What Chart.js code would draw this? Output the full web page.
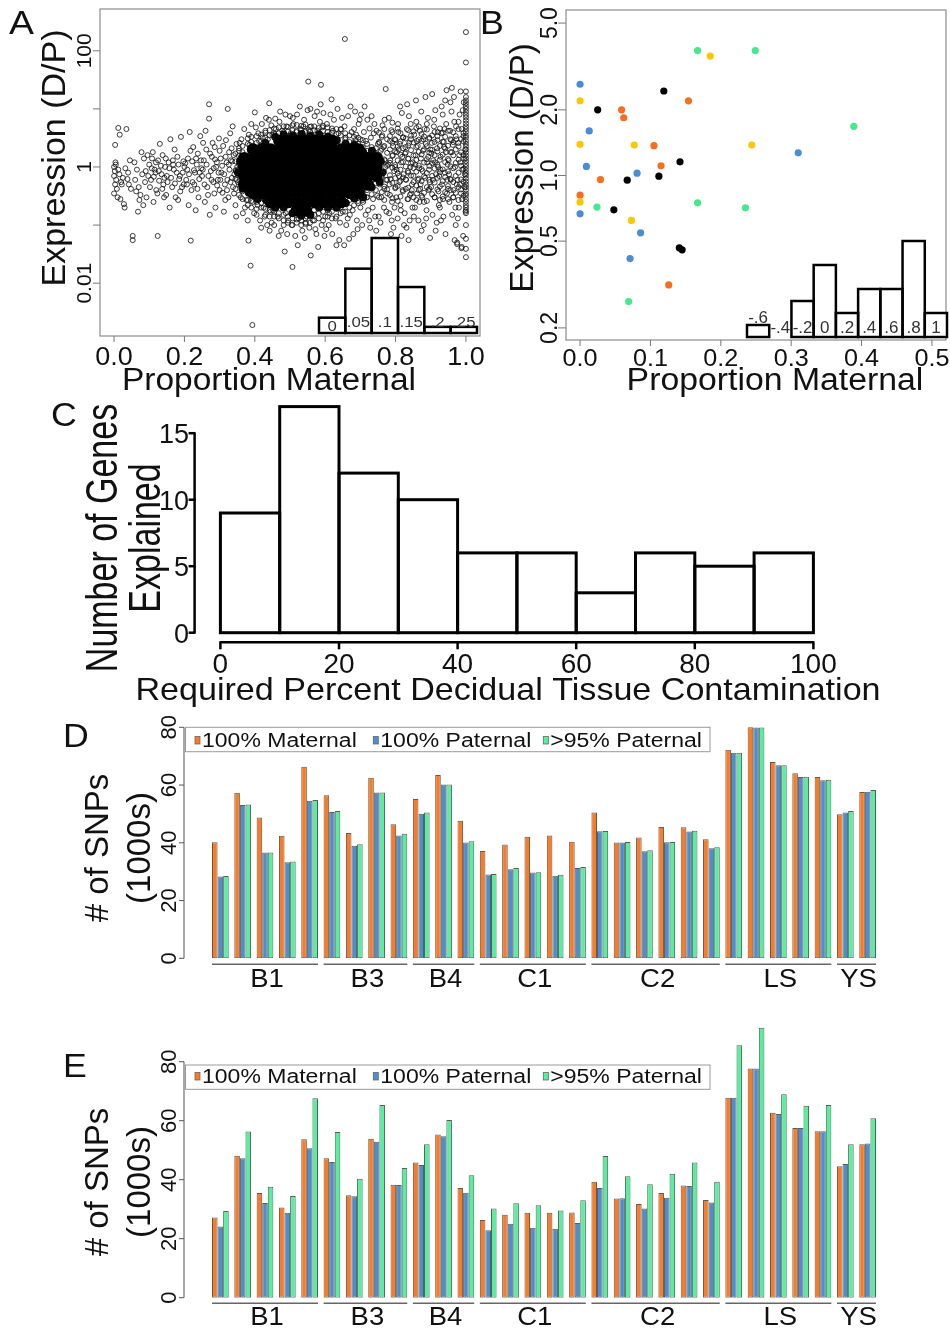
<!DOCTYPE html>
<html>
<head>
<meta charset="utf-8">
<script src="https://cdn.jsdelivr.net/npm/chart.js@4.4.1/dist/chart.umd.min.js"></script>
<style>
  html, body { margin: 0; padding: 0; background: #fff; }
  #fig { position: relative; width: 950px; height: 1331px; overflow: hidden; background: #fff; }
  #fig canvas { position: absolute; left: 0; top: 0; }
</style>
</head>
<body>
<div id="fig">
  <canvas id="chartA" width="950" height="1331"></canvas>
  <canvas id="insetA" width="950" height="1331"></canvas>
  <canvas id="chartB" width="950" height="1331"></canvas>
  <canvas id="insetB" width="950" height="1331"></canvas>
  <canvas id="chartC" width="950" height="1331"></canvas>
  <canvas id="chartD" width="950" height="1331"></canvas>
  <canvas id="chartE" width="950" height="1331"></canvas>
</div>
<script>
// ---------- A: all genes, proportion maternal vs expression ----------
const aTicksX = [0, 0.2, 0.4, 0.6, 0.8, 1.0];
const aTicksY = [0.01, 0.1, 1, 10, 100];
const aTickLabelsY = ['0.01', '', '1', '', '100'];

// the black core of the cloud (overlapping points)
const aCore = [
  { x: 0.37,  y: [0.5, 0.71, 1.0, 1.41] },
  { x: 0.395, y: [0.36, 0.5, 0.71, 1.0, 1.41, 2.0] },
  { x: 0.42,  y: [0.36, 0.5, 0.71, 1.0, 1.41, 2.0] },
  { x: 0.445, y: [0.25, 0.36, 0.5, 0.71, 1.0, 1.41, 2.0] },
  { x: 0.47,  y: [0.25, 0.36, 0.5, 0.71, 1.0, 1.41, 2.0, 2.8] },
  { x: 0.495, y: [0.25, 0.36, 0.5, 0.71, 1.0, 1.41, 2.0, 2.8] },
  { x: 0.52,  y: [0.18, 0.25, 0.36, 0.5, 0.71, 1.0, 1.41, 2.0, 2.8] },
  { x: 0.545, y: [0.18, 0.25, 0.36, 0.5, 0.71, 1.0, 1.41, 2.0, 2.8] },
  { x: 0.57,  y: [0.25, 0.36, 0.5, 0.71, 1.0, 1.41, 2.0, 2.8] },
  { x: 0.595, y: [0.25, 0.36, 0.5, 0.71, 1.0, 1.41, 2.0, 2.8] },
  { x: 0.62,  y: [0.25, 0.36, 0.5, 0.71, 1.0, 1.41, 2.0, 2.8] },
  { x: 0.645, y: [0.25, 0.36, 0.5, 0.71, 1.0, 1.41, 2.0] },
  { x: 0.67,  y: [0.36, 0.5, 0.71, 1.0, 1.41, 2.0] },
  { x: 0.695, y: [0.36, 0.5, 0.71, 1.0, 1.41, 2.0] },
  { x: 0.72,  y: [0.5, 0.71, 1.0, 1.41] },
  { x: 0.745, y: [0.71, 1.0, 1.41] }
];

// smaller dark clumps that roughen the edge of the core
const aClumps = [
  [0.352,0.8],[0.358,1.25],[0.365,0.42],[0.43,2.6],[0.458,3.3],[0.482,3.6],[0.508,3.5],[0.533,3.7],[0.558,3.4],
  [0.583,3.6],[0.608,3.3],[0.633,2.9],[0.658,2.5],[0.683,2.4],[0.708,1.8],[0.733,1.9],[0.758,1.25],[0.762,0.8],
  [0.755,0.55],[0.732,0.45],[0.708,0.3],[0.683,0.29],[0.658,0.24],[0.633,0.2],[0.608,0.2],[0.583,0.2],[0.558,0.15],
  [0.532,0.145],[0.507,0.16],[0.482,0.2],[0.458,0.2],[0.432,0.27],[0.408,0.28],[0.383,0.36]
];

// crowded genes round the core and towards 100% maternal
const aRing = [
  { x: 0.345, y: [0.42, 0.62, 0.88, 1.25, 1.7] },
  { x: 0.355, y: [0.33, 0.5, 0.75, 1.1, 1.55, 2.1] },
  { x: 0.365, y: [0.28, 0.38, 1.8, 2.3] },
  { x: 0.38,  y: [0.22, 0.27, 2.5, 3.1] },
  { x: 0.39,  y: [0.2, 0.26, 2.7, 3.3] },
  { x: 0.405, y: [0.19, 0.25, 2.6, 3.4] },
  { x: 0.418, y: [0.2, 0.24, 2.8, 3.6] },
  { x: 0.43,  y: [0.15, 0.19, 3.2, 3.9] },
  { x: 0.442, y: [0.14, 0.18, 3.5, 4.3] },
  { x: 0.455, y: [0.14, 0.17, 3.7, 4.6] },
  { x: 0.468, y: [0.13, 0.16, 3.8, 4.8] },
  { x: 0.482, y: [0.12, 0.15, 4.0, 5.0] },
  { x: 0.494, y: [0.11, 0.14, 4.1, 4.9] },
  { x: 0.507, y: [0.1, 0.13, 4.3, 5.2] },
  { x: 0.519, y: [0.11, 0.125, 4.2, 5.3] },
  { x: 0.532, y: [0.1, 0.12, 4.4, 5.1] },
  { x: 0.544, y: [0.105, 0.13, 4.0, 5.4] },
  { x: 0.557, y: [0.11, 0.14, 4.1, 4.9] },
  { x: 0.569, y: [0.12, 0.15, 4.3, 5.0] },
  { x: 0.582, y: [0.13, 0.16, 3.9, 4.7] },
  { x: 0.594, y: [0.12, 0.17, 4.2, 5.1] },
  { x: 0.607, y: [0.14, 0.18, 4.0, 4.8] },
  { x: 0.619, y: [0.13, 0.17, 3.9, 4.6] },
  { x: 0.632, y: [0.14, 0.19, 3.7, 4.5] },
  { x: 0.644, y: [0.16, 0.2, 3.5, 4.4] },
  { x: 0.657, y: [0.17, 0.23, 3.0, 3.8] },
  { x: 0.669, y: [0.2, 0.27, 2.7, 3.5] },
  { x: 0.682, y: [0.22, 0.28, 2.6, 3.3] },
  { x: 0.694, y: [0.24, 0.3, 2.5, 3.2] },
  { x: 0.707, y: [0.27, 0.36, 2.2, 2.9] },
  { x: 0.719, y: [0.3, 0.4, 1.9, 2.5] },
  { x: 0.732, y: [0.34, 0.45, 0.6, 1.75, 2.2] },
  { x: 0.744, y: [0.4, 0.52, 1.7, 2.1] },
  { x: 0.753, y: [0.3, 0.56, 0.93, 1.6, 2.7, 3.9] },
  { x: 0.761, y: [0.37, 0.68, 1.2, 2.05, 3.3] },
  { x: 0.768, y: [0.27, 0.46, 0.82, 1.35, 2.3, 4.5] },
  { x: 0.776, y: [0.41, 0.6, 1.05, 1.75, 3.0] },
  { x: 0.784, y: [0.33, 0.72, 1.18, 2.0, 3.4] },
  { x: 0.791, y: [0.29, 0.53, 0.97, 1.55, 2.6, 4.0] },
  { x: 0.799, y: [0.43, 0.64, 1.08, 1.85, 2.9] },
  { x: 0.806, y: [0.26, 0.47, 0.78, 1.3, 2.25, 4.6] },
  { x: 0.814, y: [0.31, 0.58, 0.9, 1.62, 2.75, 3.8] },
  { x: 0.821, y: [0.38, 0.66, 1.22, 2.1, 3.25] },
  { x: 0.829, y: [0.42, 0.61, 1.02, 1.78, 3.1] },
  { x: 0.836, y: [0.28, 0.44, 0.8, 1.38, 2.35, 4.3] },
  { x: 0.844, y: [0.35, 0.71, 1.15, 1.95, 3.45] },
  { x: 0.851, y: [0.3, 0.55, 0.96, 1.58, 2.65, 4.1] },
  { x: 0.859, y: [0.27, 0.48, 0.83, 1.32, 2.2, 4.7] },
  { x: 0.866, y: [0.4, 0.63, 1.06, 1.82, 2.95] },
  { x: 0.874, y: [0.32, 0.57, 0.92, 1.65, 2.8, 3.7] },
  { x: 0.881, y: [0.36, 0.69, 1.19, 2.02, 3.35] },
  { x: 0.889, y: [0.26, 0.45, 0.79, 1.36, 2.28, 4.4] },
  { x: 0.896, y: [0.42, 0.6, 1.04, 1.76, 3.05] },
  { x: 0.904, y: [0.34, 0.7, 1.16, 1.98, 3.5] },
  { x: 0.911, y: [0.3, 0.54, 0.94, 1.6, 2.7, 4.0] },
  { x: 0.919, y: [0.41, 0.65, 1.09, 1.86, 2.9] },
  { x: 0.926, y: [0.27, 0.46, 0.81, 1.33, 2.3, 4.6] },
  { x: 0.934, y: [0.31, 0.57, 0.91, 1.63, 2.72, 3.9] },
  { x: 0.941, y: [0.37, 0.67, 1.21, 2.07, 3.3] },
  { x: 0.949, y: [0.28, 0.47, 0.84, 1.37, 2.32, 4.2] },
  { x: 0.956, y: [0.4, 0.62, 1.03, 1.8, 3.0] },
  { x: 0.964, y: [0.3, 0.55, 0.95, 1.59, 2.68, 3.95] },
  { x: 0.971, y: [0.36, 0.7, 1.17, 2.0, 3.4] },
  { x: 0.979, y: [0.27, 0.45, 0.8, 1.34, 2.26, 4.5] },
  { x: 0.986, y: [0.41, 0.61, 1.05, 1.79, 3.02] },
  { x: 0.993, y: [0.32, 0.56, 0.93, 1.61, 2.74, 3.85] }
];

const aSparse = [
  [0.0,1.0],[0.002,0.85],[0.004,1.2],[0.0,0.7],[0.006,0.6],[0.003,0.5],[0.008,0.42],[0.0,0.35],[0.01,0.3],[0.005,1.1],
  [0.012,0.9],[0.015,0.75],[0.003,2.4],[0.012,4.7],[0.016,3.6],[0.035,4.5],[0.02,0.55],[0.025,0.65],[0.03,0.2],[0.028,0.23],
  [0.04,0.8],[0.045,1.3],[0.038,0.62],[0.048,0.42],[0.053,0.065],[0.053,0.055],[0.022,0.5],[0.018,0.28],[0.032,0.95],[0.042,0.5],
  [0.06,0.6],[0.065,0.9],[0.07,0.45],[0.075,0.33],[0.08,0.75],[0.085,1.4],[0.09,0.85],[0.095,1.6],[0.1,1.1],[0.072,0.27],
  [0.058,1.2],[0.088,0.55],[0.063,0.38],[0.078,1.8],[0.097,0.7],[0.092,0.3],[0.068,0.17],[0.083,0.22],
  [0.105,0.6],[0.11,1.8],[0.115,0.9],[0.12,0.4],[0.124,0.065],[0.125,1.3],[0.13,2.5],[0.135,0.75],[0.14,0.5],[0.145,1.0],
  [0.148,0.33],[0.112,0.25],[0.118,0.8],[0.128,0.58],[0.138,1.6],[0.142,0.3],[0.108,1.4],
  [0.102,0.45],[0.107,0.95],[0.113,0.68],[0.119,1.2],[0.123,0.35],[0.127,0.85],[0.133,1.05],[0.137,0.42],[0.143,0.65],[0.147,1.4],
  [0.15,0.7],[0.155,1.2],[0.16,3.0],[0.165,0.45],[0.17,0.9],[0.175,0.3],[0.18,1.5],[0.185,0.62],[0.19,3.3],[0.195,0.8],
  [0.2,1.0],[0.158,0.2],[0.172,2.0],[0.188,0.38],[0.198,0.5],[0.168,1.1],[0.182,0.27],
  [0.152,0.55],[0.157,0.95],[0.162,0.65],[0.167,1.3],[0.173,0.52],[0.178,0.8],[0.183,1.1],[0.187,0.7],[0.193,0.45],[0.197,1.25],
  [0.205,0.6],[0.21,1.4],[0.215,4.0],[0.218,0.054],[0.22,0.4],[0.225,2.2],[0.23,0.8],[0.235,1.1],[0.24,0.3],[0.245,3.4],
  [0.25,0.7],[0.208,0.9],[0.212,0.22],[0.228,0.5],[0.238,1.7],[0.248,0.95],[0.232,0.18],[0.242,0.62],[0.222,1.25],
  [0.202,1.15],[0.207,0.5],[0.213,0.75],[0.217,1.9],[0.223,0.55],[0.227,0.88],[0.233,1.4],[0.237,0.42],[0.243,0.8],[0.247,1.3],
  [0.255,1.3],[0.26,4.2],[0.265,0.45],[0.27,12],[0.27,6.8],[0.275,0.85],[0.28,2.6],[0.285,0.35],[0.29,1.0],[0.295,0.6],
  [0.3,1.9],[0.258,0.25],[0.268,0.7],[0.278,1.5],[0.288,0.2],[0.298,3.1],[0.262,2.0],[0.282,0.55],[0.292,1.2],[0.3,0.4],[0.272,0.15],
  [0.252,0.9],[0.257,0.5],[0.263,1.1],[0.267,0.33],[0.273,1.7],[0.277,0.6],[0.283,0.95],[0.287,1.35],[0.293,0.48],[0.297,0.8],
  [0.253,2.6],[0.286,2.2],
  [0.305,0.8],[0.31,2.3],[0.315,0.5],[0.32,1.2],[0.323,10],[0.325,0.3],[0.33,3.8],[0.335,0.65],[0.34,1.6],[0.345,0.22],
  [0.35,1.0],[0.303,1.4],[0.308,0.36],[0.318,2.9],[0.328,0.9],[0.338,0.45],[0.348,2.5],[0.312,0.17],[0.332,1.3],[0.342,0.75],
  [0.322,0.6],[0.337,5.0],[0.347,0.14],[0.316,0.27],[0.327,1.8],
  [0.302,0.6],[0.307,1.05],[0.313,0.75],[0.317,1.5],[0.321,0.4],[0.326,1.1],[0.331,0.55],[0.336,1.25],[0.341,0.35],[0.346,0.85],
  [0.349,0.6],[0.334,2.1],
  [0.352,0.55],[0.355,1.9],[0.36,0.3],[0.362,3.0],[0.365,0.8],[0.37,4.5],[0.372,0.2],[0.375,1.3],[0.38,0.12],[0.382,0.054],
  [0.385,2.4],[0.388,0.02],[0.39,5.5],[0.393,0.0019],[0.395,0.25],[0.398,0.16],[0.4,8.7],[0.358,1.1],[0.368,0.42],[0.378,0.65],
  [0.392,0.38],[0.357,2.6],[0.383,3.6],[0.396,1.7],[0.366,0.16],[0.376,0.27],[0.353,0.9],[0.387,0.5],
  [0.405,0.15],[0.41,3.8],[0.415,0.12],[0.42,5.5],[0.425,0.2],[0.43,4.2],[0.435,0.1],[0.44,6.5],[0.441,12.5],[0.445,0.17],
  [0.45,3.6],[0.408,0.22],[0.418,0.09],[0.428,0.14],[0.438,0.24],[0.448,0.11],[0.412,2.8],[0.422,3.2],[0.432,7.0],[0.442,0.08],
  [0.403,4.8],[0.447,5.2],[0.417,0.3],[0.437,3.0],
  [0.455,0.1],[0.46,4.5],[0.465,0.14],[0.47,6.0],[0.475,0.08],[0.48,3.8],[0.485,0.035],[0.49,5.0],[0.495,0.12],[0.5,7.5],
  [0.452,0.18],[0.458,6.8],[0.468,0.065],[0.478,4.2],[0.488,0.16],[0.498,3.4],[0.462,0.2],[0.472,9.0],[0.482,0.1],[0.492,0.07],
  [0.507,0.019],[0.457,3.2],[0.487,8.0],[0.467,0.25],[0.497,0.22],
  [0.505,0.1],[0.51,5.5],[0.515,0.065],[0.52,8.0],[0.525,0.13],[0.53,4.5],[0.535,0.08],[0.54,6.5],[0.545,0.11],[0.55,9.5],
  [0.552,29.5],[0.512,0.17],[0.522,0.045],[0.532,0.15],[0.542,0.06],[0.548,0.14],[0.518,4.0],[0.528,11],[0.538,5.0],[0.502,3.8],
  [0.508,7.0],[0.545,4.2],[0.525,0.2],[0.535,3.6],
  [0.555,0.09],[0.559,0.03],[0.56,5.0],[0.565,0.12],[0.57,7.5],[0.575,0.07],[0.58,0.042],[0.585,6.0],[0.588,26],[0.59,0.1],
  [0.595,8.5],[0.6,0.14],[0.558,10],[0.568,0.18],[0.578,4.2],[0.583,0.2],[0.592,4.8],[0.598,0.065],[0.562,3.6],[0.572,0.085],
  [0.587,12],[0.553,4.4],[0.577,9.0],[0.597,3.4],
  [0.605,5.5],[0.61,0.1],[0.615,8.0],[0.618,14.6],[0.62,0.07],[0.625,6.5],[0.63,0.13],[0.635,10],[0.64,0.055],[0.645,4.5],
  [0.65,0.17],[0.608,3.5],[0.612,0.16],[0.622,4.2],[0.628,0.2],[0.638,3.8],[0.642,0.11],[0.648,7.0],[0.603,0.085],[0.632,0.045],
  [0.654,0.045],[0.617,0.24],[0.627,3.0],[0.647,0.25],
  [0.656,160],[0.655,5.0],[0.66,0.1],[0.665,7.5],[0.67,0.15],[0.675,4.0],[0.68,0.07],[0.685,9.0],[0.69,0.12],[0.695,5.5],
  [0.7,0.2],[0.658,3.2],[0.668,0.058],[0.672,11],[0.678,0.18],[0.688,3.6],[0.692,0.085],[0.698,6.5],[0.662,0.24],[0.682,4.5],
  [0.664,0.13],[0.694,0.26],[0.676,0.3],[0.686,2.9],[0.7,3.0],
  [0.705,0.1],[0.71,4.0],[0.712,11],[0.715,0.15],[0.72,6.5],[0.725,0.12],[0.73,3.2],[0.735,0.2],[0.74,5.5],[0.745,0.08],
  [0.75,2.5],[0.708,0.25],[0.718,0.3],[0.728,0.09],[0.738,3.8],[0.748,0.32],[0.702,8.0],[0.722,0.18],[0.732,7.5],[0.742,0.14],
  [0.716,2.8],[0.736,0.28],[0.726,4.6],[0.746,4.2],
  [0.752,0.14],[0.755,0.5],[0.758,1.9],[0.76,0.3],[0.762,3.5],[0.765,0.8],[0.767,0.2],[0.77,1.3],[0.772,22],[0.773,0.6],
  [0.754,2.6],[0.757,0.11],[0.763,5.2],[0.768,0.42],[0.771,1.0],[0.759,0.7],[0.766,2.2],[0.774,0.17],[0.756,1.5],[0.769,6.5],
  [0.777,0.35],[0.779,1.1],[0.782,0.16],[0.784,2.8],[0.786,0.62],[0.788,4.3],[0.79,0.25],[0.792,1.6],[0.794,0.09],[0.796,0.85],
  [0.798,3.0],[0.8,0.45],[0.781,7.0],[0.785,1.3],[0.789,0.12],[0.793,2.3],[0.797,0.2],[0.783,0.5],[0.791,5.8],[0.799,1.0],[0.787,0.07],
  [0.802,0.3],[0.804,1.8],[0.806,0.13],[0.808,4.0],[0.81,0.7],[0.812,2.5],[0.814,0.22],[0.816,1.2],[0.818,8.5],[0.82,0.4],
  [0.822,3.2],[0.824,0.1],[0.803,0.9],[0.807,5.5],[0.811,0.55],[0.815,0.18],[0.819,1.5],[0.823,0.75],[0.809,2.0],[0.817,0.065],[0.813,11],
  [0.826,0.16],[0.828,2.2],[0.83,0.6],[0.832,4.5],[0.834,0.28],[0.836,1.4],[0.838,7.5],[0.84,0.12],[0.842,1.0],[0.844,3.0],
  [0.846,0.4],[0.848,0.2],[0.827,1.7],[0.831,0.09],[0.835,0.85],[0.839,2.6],[0.843,5.5],[0.847,0.5],[0.833,12],[0.841,0.33],
  [0.849,1.2],[0.837,0.055],
  [0.851,0.7],[0.853,3.6],[0.855,0.2],[0.857,1.6],[0.859,6.0],[0.861,0.35],[0.863,2.3],[0.865,0.12],[0.867,0.95],[0.869,4.2],
  [0.871,0.5],[0.873,9.0],[0.852,0.14],[0.856,1.1],[0.86,2.8],[0.864,0.6],[0.868,0.25],[0.872,1.4],[0.874,0.08],[0.858,14],
  [0.866,5.0],[0.87,0.42],
  [0.876,0.3],[0.878,1.9],[0.88,0.1],[0.882,4.5],[0.884,0.65],[0.886,2.5],[0.888,0.18],[0.89,1.2],[0.892,7.0],[0.894,0.4],
  [0.896,3.2],[0.898,0.06],[0.877,0.85],[0.881,0.25],[0.885,16],[0.889,5.5],[0.893,1.5],[0.897,0.55],[0.879,3.0],[0.887,0.13],
  [0.895,0.9],[0.899,2.0],
  [0.901,0.45],[0.903,2.6],[0.905,0.15],[0.907,1.3],[0.909,5.0],[0.911,0.3],[0.913,9.5],[0.915,0.75],[0.917,0.11],[0.919,3.4],
  [0.921,1.0],[0.923,0.22],[0.902,1.7],[0.906,0.6],[0.91,6.5],[0.914,0.08],[0.918,2.1],[0.922,0.38],[0.904,18],[0.912,1.2],
  [0.92,4.0],[0.924,0.7],
  [0.926,0.2],[0.928,1.5],[0.93,3.8],[0.932,0.5],[0.934,8.0],[0.936,0.14],[0.938,2.2],[0.94,0.8],[0.942,0.07],[0.944,5.5],
  [0.946,0.35],[0.948,1.1],[0.945,21],[0.927,0.9],[0.931,11],[0.935,0.28],[0.939,4.5],[0.943,1.8],[0.947,0.6],[0.929,0.12],
  [0.937,2.7],[0.941,14],[0.949,0.42],
  [0.951,1.3],[0.953,0.25],[0.955,4.2],[0.957,0.6],[0.959,9.0],[0.96,23],[0.961,0.15],[0.963,2.4],[0.965,0.4],[0.967,6.0],
  [0.969,1.0],[0.971,0.1],[0.973,3.0],[0.975,0.05],[0.952,0.75],[0.956,13],[0.96,1.8],[0.964,0.3],[0.968,0.055],[0.972,5.0],
  [0.974,0.5],[0.958,2.9],[0.966,16],[0.97,0.2],[0.975,0.047],[0.988,0.042],
  [0.976,0.6],[0.978,2.6],[0.98,0.2],[0.982,8.0],[0.984,1.2],[0.986,0.35],[0.988,4.5],[0.99,0.9],[0.992,0.065],[0.994,13],
  [0.996,0.45],[0.998,2.0],[0.977,0.13],[0.981,1.6],[0.985,20],[0.989,0.28],[0.993,3.4],[0.997,0.75],[0.979,6.0],[0.987,0.04],
  [0.995,1.4],[0.983,0.5],[0.991,9.5],[0.999,0.17]
];

// the column of genes at exactly 100% maternal
const aAllMaternal = [
  0.028, 0.039, 0.058, 0.1, 0.16, 0.18, 0.2, 0.22, 0.25, 0.28, 0.32, 0.35, 0.4, 0.45, 0.5, 0.56, 0.63, 0.71, 0.79, 0.89,
  1.0, 1.12, 1.26, 1.41, 1.58, 1.78, 2.0, 2.24, 2.5, 2.8, 3.2, 3.5, 4.0, 4.5, 5.0, 5.6, 6.3, 7.1, 7.9, 8.9,
  10, 11.2, 12.6, 14, 16, 20, 63, 210
];

const aInsetLabels = ['0', '.05', '.1', '.15', '.2', '.25'];
const aInsetCounts = [5, 21, 31, 15, 2, 2];

// ---------- B: candidate genes ----------
const bTicksX = [0, 0.1, 0.2, 0.3, 0.4, 0.5];
const bTicksY = [0.2, 0.5, 1.0, 2.0, 5.0];
const bGreen  = [[0.167,3.74],[0.249,3.74],[0.389,1.68],[0.024,0.716],[0.167,0.749],[0.235,0.711],[0.069,0.264]];
const bYellow = [[0.185,3.53],[0,2.2],[0,1.39],[0.077,1.38],[0.244,1.38],[0,0.755],[0.073,0.622]];
const bBlue   = [[0,2.62],[0.013,1.6],[0.009,1.1],[0.081,1.025],[0.31,1.27],[0,0.667],[0.086,0.546],[0.071,0.416]];
const bBlack  = [[0.119,2.44],[0.025,2.0],[0.142,1.155],[0.112,0.993],[0.067,0.952],[0.048,0.696],[0.141,0.466],[0.145,0.456]];
const bOrange = [[0.059,2.0],[0.062,1.84],[0.154,2.2],[0.105,1.37],[0.115,1.107],[0.029,0.958],[0,0.812],[0.126,0.315]];
const bInsetLabels = ['-.6', '-.4', '-.2', '0', '.2', '.4', '.6', '.8', '1'];
const bInsetCounts = [1, 0, 3, 6, 2, 4, 4, 8, 2];

// ---------- C: decidual contamination needed ----------
const cBins = ['0-10', '10-20', '20-30', '30-40', '40-50', '50-60', '60-70', '70-80', '80-90', '90-100'];
const cCounts = [9, 17, 12, 10, 6, 6, 3, 6, 5, 6];
const cTicksX = [0, 20, 40, 60, 80, 100];
const cTicksY = [0, 5, 10, 15];

// ---------- D / E: SNP counts per sample ----------
const tissues = ['B1', 'B3', 'B4', 'C1', 'C2', 'LS', 'YS'];
const tissueSizes = [5, 4, 3, 5, 6, 5, 2];
const snpTicks = [0, 20, 40, 60, 80];
const seriesNames = ['100% Maternal', '100% Paternal', '>95% Paternal'];
const seriesColors = ['#FF7A1F', '#4B8FCF', '#52F29D'];

const dMaternal   = [40.2,57.3,48.8,42.4,66.3, 56.5,43.4,62.5,46.4, 55.2,63.5,47.6, 37.2,39.4,42.1,42.5,40.4, 50.5,40.1,41.8,45.5,45.4,41.2, 72.2,80.0,68.0,64.1,62.8, 49.9,57.6];
const dPaternal   = [28.3,53.1,36.6,33.3,54.6, 50.7,39.0,57.4,42.5, 50.1,60.2,40.1, 29.0,30.8,29.7,28.6,31.3, 44.0,40.1,37.1,40.2,43.9,38.1, 71.2,79.9,66.9,62.8,61.7, 50.5,57.7];
const dPaternal95 = [28.5,53.3,36.6,33.5,54.8, 51.0,39.5,57.4,43.1, 50.5,60.2,40.5, 29.2,31.3,29.8,28.9,31.6, 44.1,40.3,37.4,40.3,44.2,38.5, 71.2,79.9,66.9,62.9,61.8, 51.0,58.3];

const eMaternal   = [27.2,48.1,35.5,30.6,53.7, 47.3,34.7,53.9,38.3, 45.8,55.3,37.2, 26.3,28.1,28.8,28.8,28.9, 39.3,33.6,31.8,35.5,38.0,33.1, 67.8,77.7,62.7,57.5,56.4, 44.6,52.0];
const ePaternal   = [24.1,47.3,32.1,28.8,50.7, 46.0,34.4,52.9,38.2, 45.0,54.7,35.6, 22.9,25.1,23.7,23.4,25.3, 37.2,33.7,30.2,33.9,37.9,32.3, 67.8,77.7,62.3,57.5,56.4, 45.3,52.3];
const ePaternal95 = [29.4,56.3,37.6,34.5,67.6, 56.2,40.3,65.3,44.0, 52.0,60.2,41.5, 30.2,32.0,31.3,29.6,33.0, 48.0,41.2,38.5,42.0,45.8,39.3, 85.6,91.5,69.0,65.1,65.3, 52.0,60.8];

// ---------- helpers ----------
const FONT = '"Liberation Sans", Arial, Helvetica, sans-serif';
const W = 950, H = 1331;

// padding that puts the chart area at the given page box
function pad(l, t, r, b) {
  return { left: l, top: t, right: W - r, bottom: H - b };
}

function txt(ctx, s, x, y, o) {
  o = o || {};
  ctx.save();
  ctx.translate(x, y);
  if (o.sx) ctx.scale(o.sx, 1);
  if (o.rot) ctx.rotate(o.rot * Math.PI / 180);
  ctx.font = (o.size || 20) + 'px ' + FONT;
  ctx.fillStyle = o.color || '#111';
  ctx.textAlign = o.align || 'center';
  ctx.textBaseline = o.base || 'alphabetic';
  ctx.fillText(s, 0, 0);
  ctx.restore();
}

function line(ctx, x1, y1, x2, y2, color, w) {
  ctx.save();
  ctx.strokeStyle = color;
  ctx.lineWidth = w;
  ctx.beginPath();
  ctx.moveTo(x1, y1);
  ctx.lineTo(x2, y2);
  ctx.stroke();
  ctx.restore();
}

function toXY(pairs) {
  return pairs.map(p => ({ x: p[0], y: p[1] }));
}

function columns(cols) {
  const out = [];
  cols.forEach(c => c.y.forEach(y => out.push({ x: c.x, y: y })));
  return out;
}

const baseOptions = {
  responsive: false,
  animation: false,
  events: [],
  plugins: { legend: { display: false }, tooltip: { enabled: false } }
};

function opts(padding, scales) {
  return Object.assign({}, baseOptions, { layout: { padding: padding }, scales: scales });
}

// R-style outlined histogram bars, stroked on the bin edges
function outlineBars(width) {
  return {
    id: 'outlineBars',
    afterDatasetsDraw(chart) {
      const ctx = chart.ctx;
      ctx.save();
      ctx.strokeStyle = '#000';
      ctx.lineWidth = width;
      chart.getDatasetMeta(0).data.forEach((bar, i) => {
        const v = chart.data.datasets[0].data[i];
        if (!v) return;
        const p = bar.getProps(['x', 'y', 'base', 'width'], true);
        ctx.strokeRect(p.x - p.width / 2, p.y, p.width, p.base - p.y);
      });
      ctx.restore();
    }
  };
}

const openPoint = {
  pointRadius: 2.5,
  borderWidth: 1,
  borderColor: 'rgba(20,20,20,0.82)',
  backgroundColor: 'rgba(0,0,0,0)'
};

// ---------- A ----------
new Chart(document.getElementById('chartA'), {
  type: 'scatter',
  data: {
    datasets: [
      { data: columns(aCore), pointRadius: 6.3, borderWidth: 0, backgroundColor: '#000' },
      { data: toXY(aClumps), pointRadius: 4, borderWidth: 0, backgroundColor: '#0a0a0a' },
      Object.assign({ data: columns(aRing) }, openPoint),
      Object.assign({ data: toXY(aSparse) }, openPoint),
      Object.assign({ data: aAllMaternal.map(y => ({ x: 1.0, y: y })) }, openPoint)
    ]
  },
  options: opts(pad(100, 9, 480, 336), {
    x: { type: 'linear', min: -0.04, max: 1.04, display: false },
    y: { type: 'logarithmic', min: 0.00123, max: 525, display: false }
  }),
  plugins: [{
    id: 'axesA',
    afterDraw(chart) {
      const { ctx, chartArea: a, scales: { x, y } } = chart;
      ctx.save();
      ctx.strokeStyle = '#8c8c8c';
      ctx.lineWidth = 1.2;
      ctx.strokeRect(a.left, a.top, a.right - a.left, a.bottom - a.top);
      ctx.restore();
      aTicksX.forEach(v => {
        const px = x.getPixelForValue(v);
        line(ctx, px, a.bottom, px, a.bottom + 6, '#777', 1);
        txt(ctx, v.toFixed(1), px, 365, { size: 25, sx: 1.08 });
      });
      aTicksY.forEach((v, i) => {
        const py = y.getPixelForValue(v);
        line(ctx, a.left, py, a.left - 7, py, '#777', 1);
        if (aTickLabelsY[i]) txt(ctx, aTickLabelsY[i], 91, py, { size: 21, rot: -90 });
      });
      txt(ctx, 'Expression (D/P)', 65, 158, { size: 34, rot: -90 });
      txt(ctx, 'Proportion Maternal', 269, 390, { size: 31, sx: 1.08 });
      txt(ctx, 'A', 9, 34, { size: 34, align: 'left', sx: 1.1 });
    }
  }]
});

new Chart(document.getElementById('insetA'), {
  type: 'bar',
  data: {
    labels: aInsetLabels,
    datasets: [{ data: aInsetCounts, backgroundColor: '#fff', borderWidth: 0, categoryPercentage: 1, barPercentage: 1 }]
  },
  options: opts(pad(319, 238, 477, 333), {
    x: { display: false },
    y: { min: 0, max: 31, display: false }
  }),
  plugins: [outlineBars(2.5), {
    id: 'labelsA',
    afterDraw(chart) {
      const x = chart.scales.x;
      aInsetLabels.forEach((s, i) => {
        txt(chart.ctx, s, x.getPixelForValue(i), i === 0 ? 331 : 326.5, { size: 15, sx: 1.12, color: '#333' });
      });
    }
  }]
});

// ---------- B ----------
const bPoint = { pointRadius: 3.6, borderWidth: 0 };
new Chart(document.getElementById('chartB'), {
  type: 'scatter',
  data: {
    datasets: [
      Object.assign({ data: toXY(bGreen), backgroundColor: '#45E88C' }, bPoint),
      Object.assign({ data: toXY(bYellow), backgroundColor: '#F9C800' }, bPoint),
      Object.assign({ data: toXY(bBlue), backgroundColor: '#4A8DD6' }, bPoint),
      Object.assign({ data: toXY(bBlack), backgroundColor: '#000' }, bPoint),
      Object.assign({ data: toXY(bOrange), backgroundColor: '#F86E1E' }, bPoint)
    ]
  },
  options: opts(pad(566, 10, 948, 340), {
    x: { type: 'linear', min: -0.02, max: 0.52, display: false },
    y: { type: 'logarithmic', min: 0.176, max: 5.74, display: false }
  }),
  plugins: [{
    id: 'axesB',
    afterDraw(chart) {
      const { ctx, chartArea: a, scales: { x, y } } = chart;
      ctx.save();
      ctx.strokeStyle = '#8c8c8c';
      ctx.lineWidth = 1.2;
      ctx.strokeRect(a.left, a.top, a.right - a.left, a.bottom - a.top);
      ctx.restore();
      bTicksX.forEach(v => {
        const px = x.getPixelForValue(v);
        line(ctx, px, a.bottom, px, a.bottom + 6, '#777', 1);
        txt(ctx, v.toFixed(1), px, 366, { size: 24, sx: 1.05 });
      });
      bTicksY.forEach(v => {
        const py = y.getPixelForValue(v);
        line(ctx, a.left, py, a.left - 8, py, '#777', 1);
        txt(ctx, v.toFixed(1), 557, py, { size: 23, rot: -90 });
      });
      txt(ctx, 'Expression (D/P)', 533, 168, { size: 33, rot: -90 });
      txt(ctx, 'Proportion Maternal', 775, 390, { size: 31, sx: 1.09 });
      txt(ctx, 'B', 480, 34, { size: 34, align: 'left', sx: 1.05 });
    }
  }]
});

new Chart(document.getElementById('insetB'), {
  type: 'bar',
  data: {
    labels: bInsetLabels,
    datasets: [{ data: bInsetCounts.map(v => v || null), backgroundColor: '#fff', borderWidth: 0, categoryPercentage: 1, barPercentage: 1 }]
  },
  options: opts(pad(747, 241, 947, 337), {
    x: { display: false },
    y: { min: 0, max: 8, display: false }
  }),
  plugins: [outlineBars(2.5), {
    id: 'labelsB',
    afterDraw(chart) {
      const x = chart.scales.x;
      bInsetLabels.forEach((s, i) => {
        txt(chart.ctx, s, x.getPixelForValue(i), i === 0 ? 323 : 333, { size: 17, color: '#333' });
      });
    }
  }]
});

// ---------- C ----------
new Chart(document.getElementById('chartC'), {
  type: 'bar',
  data: {
    labels: cBins,
    datasets: [{ data: cCounts, backgroundColor: '#fff', borderWidth: 0, categoryPercentage: 1, barPercentage: 1 }]
  },
  options: opts(pad(220.4, 406.6, 813.4, 632.7), {
    x: { display: false },
    xv: { type: 'linear', min: 0, max: 100, offset: false, display: false },
    y: { min: 0, max: 17, display: false }
  }),
  plugins: [outlineBars(3), {
    id: 'axesC',
    afterDraw(chart) {
      const { ctx, scales: { xv, y } } = chart;
      const ax = 194.6, ay = 642.3;
      line(ctx, ax, y.getPixelForValue(0), ax, y.getPixelForValue(15), '#000', 2.5);
      cTicksY.forEach(v => {
        const py = y.getPixelForValue(v);
        line(ctx, ax + 1, py, ax - 6, py, '#000', 2.5);
        txt(ctx, String(v), 189, py + 10, { size: 27, align: 'right' });
      });
      line(ctx, xv.getPixelForValue(0) - 1, ay, xv.getPixelForValue(100) + 1, ay, '#000', 2.5);
      cTicksX.forEach(v => {
        const px = xv.getPixelForValue(v);
        line(ctx, px, ay, px, ay + 7, '#000', 2.5);
        txt(ctx, String(v), px, 673, { size: 28 });
      });
      txt(ctx, 'Required Percent Decidual Tissue Contamination', 508, 700, { size: 32, sx: 1.065 });
      txt(ctx, 'Number of Genes', 117, 538, { size: 34, rot: -90, sx: 1.3 });
      txt(ctx, 'Explained', 160, 538, { size: 34, rot: -90, sx: 1.3 });
      txt(ctx, 'C', 51, 426, { size: 34, align: 'left', sx: 1.05 });
    }
  }]
});

// ---------- D and E ----------
function snpPanel(canvasId, letter, series, g) {
  const cats = [];
  tissues.forEach((t, i) => {
    for (let k = 1; k <= tissueSizes[i]; k++) cats.push(t + '.' + k);
  });
  const top = g.zero - g.yMax * g.unit;
  new Chart(document.getElementById(canvasId), {
    type: 'bar',
    data: {
      labels: cats,
      datasets: series.map((s, i) => ({
        label: seriesNames[i],
        data: s,
        backgroundColor: seriesColors[i],
        borderColor: '#5c5c5c',
        borderWidth: 1,
        borderSkipped: false,
        categoryPercentage: 0.75,
        barPercentage: 1
      }))
    },
    options: opts(pad(209.2, top, 878.8, g.zero), {
      x: { display: false },
      y: { min: 0, max: g.yMax, display: false }
    }),
    plugins: [{
      id: 'axesSNP',
      afterDraw(chart) {
        const { ctx, scales: { y } } = chart;
        const ax = 184;
        line(ctx, ax, y.getPixelForValue(0), ax, y.getPixelForValue(80), '#555', 1);
        snpTicks.forEach(v => {
          const py = y.getPixelForValue(v);
          line(ctx, ax, py, ax - 5, py, '#555', 1);
          txt(ctx, String(v), 176, py, { size: 22, rot: -90 });
        });
        txt(ctx, '# of SNPs', 108, g.titleY, { size: 33, rot: -90 });
        txt(ctx, '(1000s)', 150, g.titleY, { size: 33, rot: -90 });

        // tissue groups under the bars
        const first = chart.getDatasetMeta(0).data;
        const last = chart.getDatasetMeta(2).data;
        let start = 0;
        tissues.forEach((t, i) => {
          const end = start + tissueSizes[i] - 1;
          const x1 = first[start].x - first[start].width / 2;
          const x2 = last[end].x + last[end].width / 2;
          line(ctx, x1, g.lineY, x2, g.lineY, '#666', 1.5);
          txt(ctx, t, (x1 + x2) / 2 + 2, g.labelBase, { size: 25, sx: 1.1 });
          start = end + 1;
        });

        // legend
        ctx.save();
        ctx.fillStyle = '#fff';
        ctx.fillRect(185.5, g.legTop, 524.5, g.legBottom - g.legTop);
        ctx.strokeStyle = '#9a9a9a';
        ctx.lineWidth = 1;
        ctx.strokeRect(185.5, g.legTop, 524.5, g.legBottom - g.legTop);
        const keyX = [195, 373.3, 543.3];
        seriesNames.forEach((s, i) => {
          ctx.fillStyle = seriesColors[i];
          ctx.fillRect(keyX[i], g.keyTop, 5, 7.5);
          ctx.strokeStyle = '#666';
          ctx.lineWidth = 0.8;
          ctx.strokeRect(keyX[i], g.keyTop, 5, 7.5);
          txt(ctx, s, keyX[i] + 7, g.legBase, { size: 19.5, sx: 1.18, align: 'left' });
        });
        ctx.restore();

        txt(ctx, letter, 63, g.letterBase, { size: 34, align: 'left', sx: 1.05 });
      }
    }]
  });
}

snpPanel('chartD', 'D', [dMaternal, dPaternal, dPaternal95], {
  zero: 958.3, unit: 2.8875, yMax: 86, titleY: 848,
  lineY: 964.3, labelBase: 986.7,
  legTop: 727.3, legBottom: 751.7, keyTop: 736.5, legBase: 746.7, letterBase: 747
});

snpPanel('chartE', 'E', [eMaternal, ePaternal, ePaternal95], {
  zero: 1297.7, unit: 2.95, yMax: 94, titleY: 1182,
  lineY: 1303.3, labelBase: 1325,
  legTop: 1065, legBottom: 1089.3, keyTop: 1072.5, legBase: 1083.3, letterBase: 1077
});
</script>
</body>
</html>
